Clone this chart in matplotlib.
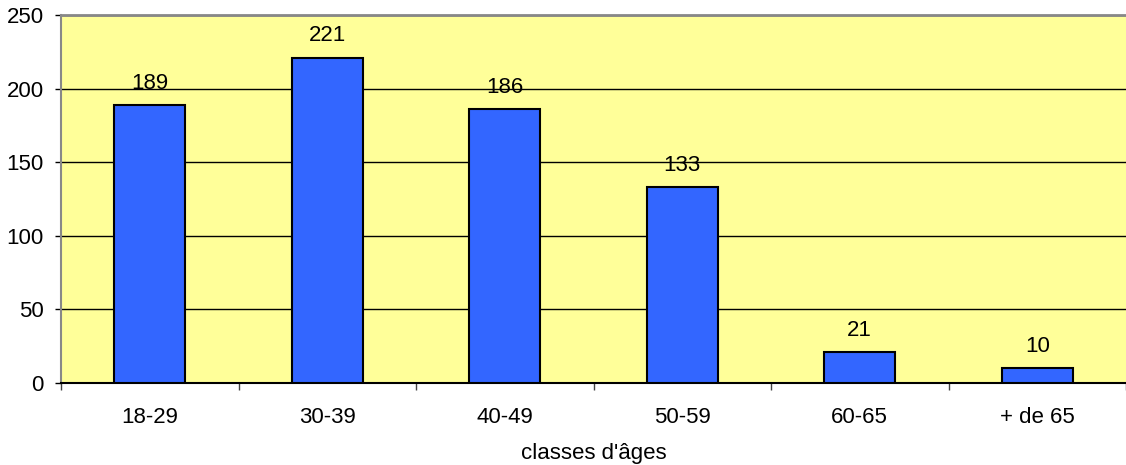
import matplotlib.pyplot as plt
import numpy as np

plt.rcParams['font.family'] = ['Liberation Sans', 'DejaVu Sans']

categories = ['18-29', '30-39', '40-49', '50-59', '60-65', '+ de 65']
counts = [189, 221, 186, 133, 21, 10]

fig = plt.figure(figsize=(11.26, 4.65), dpi=100)
ax = fig.add_axes([61 / 1126, 82 / 465, 1 - 61 / 1126, 368 / 465])
ax.set_facecolor('#FFFF99')

x = np.arange(len(categories))
bars = ax.bar(x, counts, width=0.4, color='#3366FF', edgecolor='black', linewidth=1.5, zorder=3)

# value labels above bars
for xi, v in zip(x, counts):
    ax.text(xi, v + 11, str(v), ha='center', va='baseline', fontsize=16)

ax.set_xlim(-0.5, len(categories) - 0.5)
ax.set_ylim(0, 250)
ax.set_yticks(range(0, 251, 50))
ax.yaxis.grid(True, color='black', linewidth=1, zorder=0)

# category labels centred, ticks on boundaries
ax.set_xticks(x)
ax.set_xticklabels(categories, fontsize=16)
ax.tick_params(axis='x', length=0, pad=17)
ax.set_xticks(np.arange(-0.5, len(categories), 1), minor=True)
ax.tick_params(axis='x', which='minor', length=5, width=1, color='#444444')
ax.tick_params(axis='y', labelsize=16, length=4.5, width=1, color='black', pad=8)

ax.spines['right'].set_visible(False)
ax.spines['top'].set_color('#888888')
ax.spines['top'].set_linewidth(2)
ax.spines['left'].set_color('#888888')
ax.spines['left'].set_linewidth(1.5)
ax.spines['bottom'].set_color('black')
ax.spines['bottom'].set_linewidth(1.5)

ax.set_xlabel("classes d'âges", fontsize=16, labelpad=11)

fig.savefig('out.png', dpi=100)
